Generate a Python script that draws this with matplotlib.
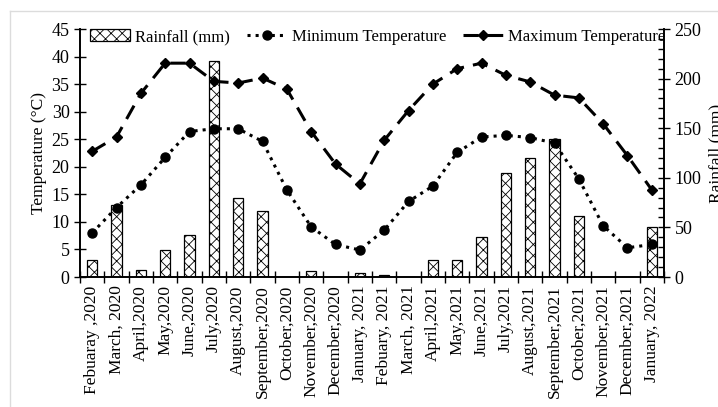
import matplotlib
matplotlib.use("Agg")
import matplotlib.pyplot as plt
import matplotlib.ticker as ticker
from matplotlib.lines import Line2D
import numpy as np

months = ["Febuaray ,2020", "March, 2020", "April,2020", "May,2020", "June,2020",
          "July,2020", "August,2020", "September,2020", "October,2020",
          "November,2020", "December,2020", "January, 2021", "Febuary, 2021",
          "March, 2021", "April,2021", "May,2021", "June,2021", "July,2021",
          "August,2021", "September,2021", "October,2021", "November,2021",
          "December,2021", "January, 2022"]

rainfall = [17.5, 73, 7.5, 27.6, 42, 218, 79.6, 66.4, 0, 6, 0.5, 4,
            2, 0, 16.8, 16.8, 40.3, 105, 120, 139.5, 61, 0, 0, 50.4]

min_temp = [8.0, 12.6, 16.7, 21.7, 26.4, 26.9, 26.9, 24.6, 15.8, 9.1, 5.9, 4.9,
            8.5, 13.7, 16.5, 22.6, 25.4, 25.7, 25.3, 24.3, 17.8, 9.3, 5.3, 5.9]

max_temp = [22.8, 25.4, 33.3, 38.8, 38.8, 35.5, 35.2, 36.1, 34.1, 26.4, 20.5, 16.9,
            24.8, 30.2, 35.0, 37.8, 38.8, 36.6, 35.4, 33.0, 32.5, 27.8, 22.0, 15.8]

plt.rcParams['font.family'] = ['Liberation Serif', 'DejaVu Serif']
plt.rcParams['hatch.linewidth'] = 0.6

W, H = 718, 407
fig = plt.figure(figsize=(W / 100, H / 100), dpi=100)
ax = fig.add_axes([80 / W, 1 - 277 / H, (664 - 80) / W, (277 - 29) / H])
ax2 = ax.twinx()

x = np.arange(len(months))

# bars on the right axis, kept behind the temperature lines
bars = ax2.bar(x, rainfall, width=0.42, color='white', edgecolor='black',
               linewidth=0.9, hatch='xxx', label='Rainfall (mm)')
ax.set_zorder(ax2.get_zorder() + 1)
ax.patch.set_visible(False)

l_min, = ax.plot(x, min_temp, linestyle=':', color='black', linewidth=2.2,
                 marker='o', markersize=6.5, label='Minimum Temperature')
l_max, = ax.plot(x, max_temp, color='black', linewidth=2.2, dashes=(5, 3),
                 marker='D', markersize=5, label='Maximum Temperature')

ax.set_xlim(-0.5, len(months) - 0.5)
ax.set_ylim(0, 45)
ax2.set_ylim(0, 250)
ax.set_yticks(np.arange(0, 46, 5))
ax2.set_yticks(np.arange(0, 251, 50))
ax2.yaxis.set_minor_locator(ticker.MultipleLocator(10))

ax.set_xticks(x)
ax.set_xticklabels(months, rotation=90)
ax.xaxis.set_minor_locator(ticker.FixedLocator(np.arange(-0.5, len(months), 1)))
ax.tick_params(axis='x', which='major', length=0, pad=6, labelsize=12.5)
ax.tick_params(axis='x', which='minor', direction='inout', length=8, width=1)
ax.tick_params(axis='y', which='major', direction='inout', length=8, width=1, labelsize=13)
ax2.tick_params(axis='y', which='major', direction='inout', length=8, width=1, labelsize=13)
ax2.tick_params(axis='y', which='minor', direction='in', length=4, width=1)

for a in (ax, ax2):
    a.spines['top'].set_visible(False)
    for s in a.spines.values():
        s.set_linewidth(1.2)

ax.set_ylabel('Temperature (°C)', fontsize=12.5, labelpad=3)
ax2.set_ylabel('Rainfall (mm)', fontsize=12.5, labelpad=5)

ax.legend([bars, l_min, l_max],
          ['Rainfall (mm)', 'Minimum Temperature', 'Maximum Temperature'],
          loc='center', bbox_to_anchor=(0.51, 0.968), ncol=3, frameon=False,
          fontsize=12, handlelength=2.4, columnspacing=1.0, handletextpad=0.3,
          borderpad=0)

# light frame of the original screenshot
fig.add_artist(Line2D([10 / W, 10 / W], [0, 1 - 11 / H], transform=fig.transFigure,
                      color='#dcdcdc', linewidth=1))
fig.add_artist(Line2D([10 / W, 1], [1 - 11 / H, 1 - 11 / H], transform=fig.transFigure,
                      color='#dcdcdc', linewidth=1))

fig.savefig('out.png', dpi=100)
